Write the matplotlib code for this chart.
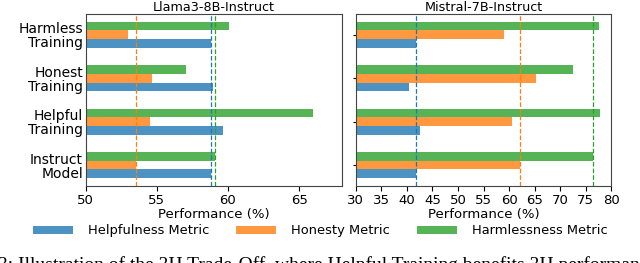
import numpy as np
import matplotlib
matplotlib.use('Agg')
import matplotlib.pyplot as plt

categories = ['Instruct\nModel', 'Helpful\nTraining', 'Honest\nTraining', 'Harmless\nTraining']
metrics    = ['Helpfulness Metric', 'Honesty Metric', 'Harmlessness Metric']

# values per category, bottom to top: Instruct, Helpful, Honest, Harmless
llama_help    = [58.8, 59.65, 58.95, 58.8]
llama_honest  = [53.5, 54.5, 54.65, 53.0]
llama_harm    = [59.1, 66.0, 57.05, 60.1]

mistral_help   = [41.7, 42.5, 40.5, 41.8]
mistral_honest = [62.2, 60.6, 65.2, 58.95]
mistral_harm   = [76.5, 77.85, 72.5, 77.6]

colors = ['tab:blue', 'tab:orange', 'tab:green']

fig = plt.figure(figsize=(6.4, 2.63), dpi=100)
ax1 = fig.add_axes([0.134, 0.293, 0.400, 0.654])
ax2 = fig.add_axes([0.556, 0.293, 0.399, 0.654], sharey=ax1)

y = np.arange(len(categories))
h = 0.2

def draw(ax, series, title, xlim, xticks):
  for k, (vals, c) in enumerate(zip(series, colors)):
    ax.barh(y + (k - 1) * h, vals, height=h, color=c, alpha=0.8, label=metrics[k])
    ax.axvline(vals[0], color=c, linestyle='--', linewidth=0.9)       # baseline = Instruct Model
  ax.set_xlim(*xlim)
  ax.set_xticks(xticks)
  ax.set_title(title, fontsize=9.2, pad=2)
  ax.set_xlabel('Performance (%)', fontsize=9.5, labelpad=1)
  ax.tick_params(axis='x', labelsize=9.5, pad=2)
  for s in ax.spines.values():
    s.set_color('#444444')

draw(ax1, [llama_help, llama_honest, llama_harm], 'Llama3-8B-Instruct', (50, 68), [50, 55, 60, 65])
draw(ax2, [mistral_help, mistral_honest, mistral_harm], 'Mistral-7B-Instruct', (30, 80), list(range(30, 81, 5)))

ax1.set_yticks(y)
ax1.set_yticklabels(categories, fontsize=10, linespacing=1.0)
ax1.tick_params(axis='y', length=0, pad=2)
ax2.tick_params(axis='y', labelleft=False, length=2)

handles, labels = ax1.get_legend_handles_labels()
fig.legend(handles, labels, loc='center', bbox_to_anchor=(0.5, 0.122), ncol=3, frameon=False,
           fontsize=9.4, handlelength=3.06, handleheight=0.5, handletextpad=1.15, columnspacing=2.07)

fig.text(-0.003, -0.027, '3: Illustration of the 3H Trade-Off, where Helpful Training benefits 3H performance',
         family='Liberation Serif', fontsize=14, ha='left', va='baseline')

fig.savefig('out.png', dpi=100)
